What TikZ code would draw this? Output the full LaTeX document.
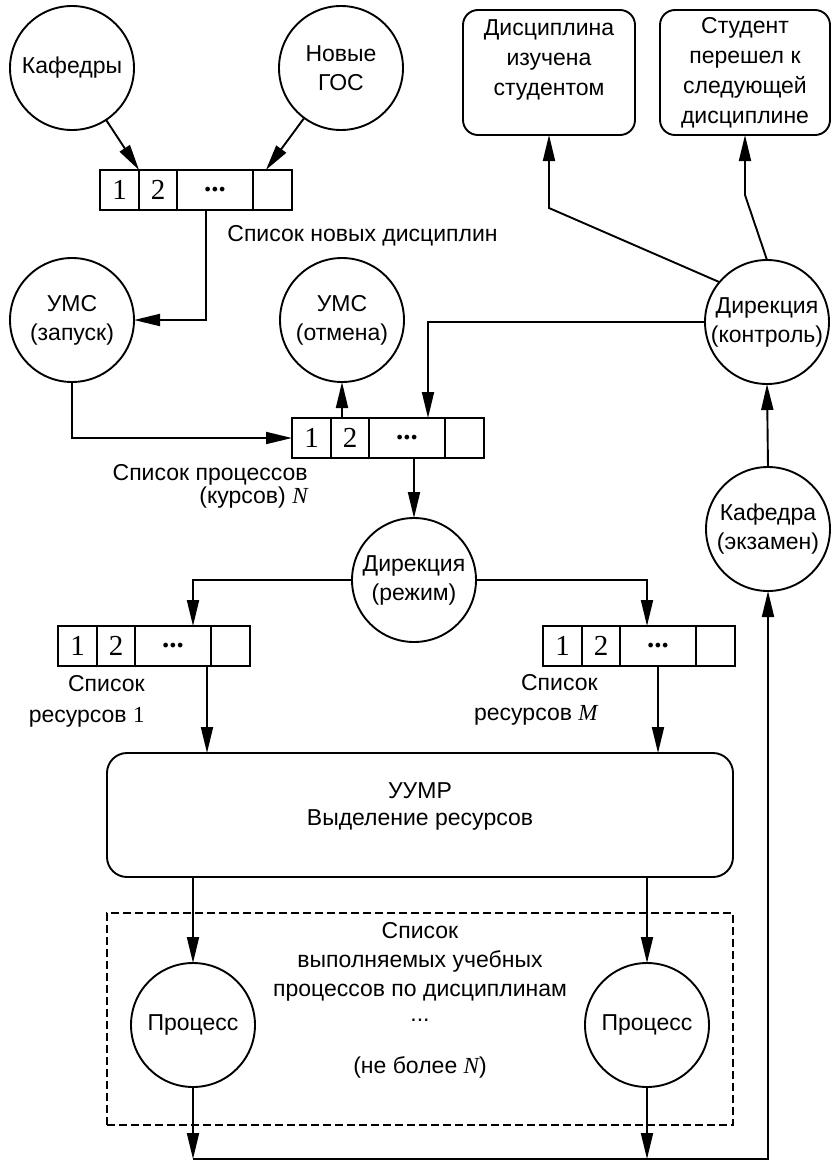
\documentclass[tikz,border=0pt]{standalone}
\usepackage{fontspec}
\setmainfont{Liberation Sans}
\newfontfamily\numfont{Liberation Serif}
\usetikzlibrary{arrows.meta,calc}
\newcommand\mathvar[1]{{\numfont\itshape #1}}
% a four-cell queue: name, left x, top y
\newcommand\queueat[3]{%
  \node[qcell, minimum width=19.5pt] (#1-1) at (#2,#3) {1};
  \node[qcell, minimum width=19pt]   (#1-2) at (#1-1.north east) {2};
  \node[qcell, minimum width=38pt]   (#1-3) at (#1-2.north east) {\textbf{...}};
  \node[qcell, minimum width=19.5pt] (#1-4) at (#1-3.north east) {};
}
\tikzset{
  ln/.style={line width=0.95pt},
  arr/.style={ln, -{Triangle[length=13pt,width=6pt]}},
  actor/.style={circle, draw, ln, minimum size=62pt, inner sep=0pt, outer sep=0pt, align=center},
  qcell/.style={draw, ln, minimum height=20pt, inner sep=0pt, outer sep=0pt, anchor=north west,
    font=\numfont\fontsize{14.5}{14.5}\selectfont},
  endbox/.style={draw, ln, rounded corners=7.5pt, minimum height=62.5pt, inner sep=0pt, outer sep=0pt,
    align=center, font=\fontsize{11.5}{15}\selectfont},
  bigbox/.style={draw, ln, rounded corners=10pt, inner sep=0pt, outer sep=0pt},
  groupbox/.style={draw, ln, dash pattern=on 4pt off 2pt, inner sep=0pt, outer sep=0pt},
  caption/.style={inner sep=0pt, align=right, anchor=north east},
}
\begin{document}
\begin{tikzpicture}[x=0.5pt, y=-0.5pt, every node/.style={font=\fontsize{11.5}{14.5}\selectfont}]
\useasboundingbox (0,0) rectangle (833,1162);

% actors
\node[actor] (kaf) at (72,68) {Кафедры};
\node[actor] (gos) at (341,68) {Новые\\ГОС};
\node[actor] (umsrun) at (72,320) {УМС\\(запуск)};
\node[actor] (umscancel) at (342,320) {УМС\\(отмена)};
\node[actor] (dirctl) at (767,322) {Дирекция\\(контроль)};
\node[actor] (kafex) at (768,529) {Кафедра\\(экзамен)};
\node[actor] (dirmode) at (414,580) {Дирекция\\(режим)};

% results
\node[endbox, minimum width=86pt] (done) at (549,72.5) {Дисциплина\\изучена\\студентом\\\mbox{}};
\node[endbox, minimum width=85pt] (next) at (745,72.5) {Студент\\перешел к\\следующей\\дисциплине};

% queues
\queueat{qnew}{100}{170}
\queueat{qproc}{292}{418}
\queueat{qres}{58}{626}
\queueat{qresm}{543}{626}

\node[inner sep=0pt, anchor=west] (lblnew) at (227,236) {Список новых дисциплин};
\node[caption, font=\fontsize{11.5}{11.5}\selectfont] (lblproc) at (308,464) {Список процессов\\(курсов) \mathvar{N}};
\node[caption, font=\fontsize{11.5}{15.5}\selectfont] (lblres) at (145,675) {Список\\ресурсов {\numfont 1}};
\node[caption, font=\fontsize{11.5}{15}\selectfont] (lblresm) at (598,674) {Список\\ресурсов \mathvar{M}};

% resource allocation
\node[bigbox, minimum width=313pt, minimum height=62pt] (uumr) at (420,815) {};
\node[align=center, font=\fontsize{11.5}{13.5}\selectfont] (uumrtext) at (420,806) {УУМР\\Выделение ресурсов};

% running processes
\node[groupbox, minimum width=313pt, minimum height=106pt] (running) at (420,1019) {};
\node[inner sep=0pt, anchor=north, align=center] (runtitle) at (420,922)
  {Список\\выполняемых учебных\\процессов по дисциплинам};
\node[inner sep=0pt] (rundots) at (420,1020) {...};
\node[inner sep=0pt] (runmax) at (420,1067) {(не более \mathvar{N})};
\node[actor] (proc1) at (193,1025) {Процесс};
\node[actor] (proc2) at (647,1025) {Процесс};

% connectors
\draw[arr] (kaf) -- (qnew-2.north west);
\draw[arr] (gos) -- ($(qnew-4.north west)!0.33!(qnew-4.north east)$);
\draw[arr] ([xshift=-4.5pt]qnew-3.south) |- (umsrun.east);
\draw[arr] (umsrun.south) |- (qproc-1.west);
\draw[arr] (umscancel.south |- qproc-2.north) -- (umscancel.south);
\draw[arr] (dirctl.west) -| ([xshift=10.5pt]qproc-3.north);
\draw[arr] (dirmode.north |- qproc-3.south) -- (dirmode.north);
\draw[arr] (dirmode.west) -| ([xshift=10pt]qres-3.north);
\draw[arr] (dirmode.east) -| ([xshift=-5.5pt]qresm-3.north);
\draw[arr] ([xshift=17pt]qres-3.south) -- ([xshift=17pt]qres-3.south |- uumr.north);
\draw[arr] (qresm-3.south) -- (qresm-3.south |- uumr.north);
\draw[arr] (proc1.north |- uumr.south) -- (proc1.north);
\draw[arr] (proc2.north |- uumr.south) -- (proc2.north);
\coordinate (bl) at (proc1.south |- 0,1159);
\coordinate (br) at (proc2.south |- 0,1159);
\draw[arr] (proc1.south) -- (bl);
\draw[arr] (proc2.south) -- (br);
\draw[arr] (bl) -| (kafex.south);
\draw[arr] (kafex.north) -- (dirctl.south);
\draw[arr] (dirctl.140) -- ([yshift=-36.5pt]done.south) -- (done.south);
\draw[arr] (dirctl.north) -- ([yshift=-30pt]next.south) -- (next.south);
\end{tikzpicture}
\end{document}
